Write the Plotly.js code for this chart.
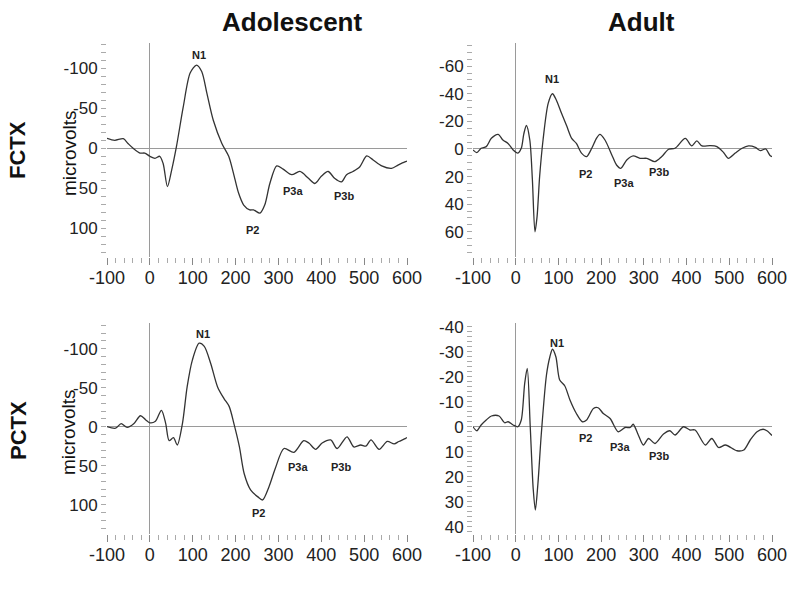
<!DOCTYPE html>
<html>
<head>
<meta charset="utf-8">
<script src="https://cdn.plot.ly/plotly-3.0.1.min.js"></script>
<style>html,body{margin:0;padding:0;background:#fff;}#chart{width:800px;height:589px;}</style>
</head>
<body>
<div id="chart"></div>
<script>
// ---- Data (ms, microvolts; negative plotted upward) ----
var fctxAdolTime = [-100,-82,-62,-51,-39,-23,-12,0,12,23,31,41,51,62,78,94,109,121,133,148,168,184,195,207,219,233,242,257,268,280,296,311,331,350,370,385,400,416,431,447,459,474,490,506,521,541,564,579,595,600];
var fctxAdolVals = [-12.5,-10,-12,-6,0,6,6,10,12.5,10,19,48,27,-2,-52,-94,-104,-96,-69,-35,-6,10,31,56,71,77,77,81,71,44,22,26,33,29,37.5,44,35,29,37.5,42,33,29,23,9.6,14.6,22,25,21,17,16];

var fctxAdultTime = [-100,-91,-81,-69,-57,-41,-30,-18,-6,5,13,19,25,33,39,45,50,56,64,76,86,95,107,119,131,142,154,166,178,189,197,209,225,236,246,260,275,291,307,326,342,358,373,397,412,424,436,455,471,487,498,514,530,545,561,573,585,596,600];
var fctxAdultVals = [0.7,2.7,-0.5,-1.7,-7.7,-10.6,-6.5,-4,0.7,3,-0.5,-11,-17,-6.5,22,60,49,20,-6.5,-33,-40,-35.5,-26,-17,-7.7,-4,3,5.5,-0.5,-7.7,-10.6,-6.5,4.3,11.6,14,8,5,6.8,6.8,9.2,5.5,0.2,-0.5,-7.7,-2.2,-5.8,-2.2,-2.4,-1.7,2.7,6.8,3,-0.5,-2.2,-1.2,1.2,0,5,5.5];

var pctxAdolTime = [-100,-80,-67,-53,-37,-22,-10,0,13,27,37,45,55,64,76,87,99,115,127,142,158,173,185,197,209,220,235,252,263,278,293,313,336,359,371,387,402,422,437,460,476,492,504,516,535,554,570,581,597,600];
var pctxAdolVals = [0,2,-4,1,-4,-14,-9,-5,-7,-21,-4,18,14,23.5,-4,-51,-85,-107,-103,-81,-51,-36,-26,-2,26,60,81,90,94,77,53,28,33,18,21,29,21,17,28,13,26,23.5,25,17,29,19,22,19,15,14];

var pctxAdultTime = [-100,-91,-81,-69,-57,-39,-26,-18,-6,5,13,21,27,34,41,46,52,60,72,80,86,94,103,115,127,142,156,166,182,193,205,221,240,256,268,275,287,299,311,326,346,361,373,393,408,420,444,459,475,491,518,534,549,565,579,588,600];
var pctxAdultVals = [0,1.6,-0.7,-2.7,-4.3,-4.3,-1.6,-2,-0.7,0,-2.7,-17.3,-23.3,0,25,33.3,22.7,2.7,-20.7,-28,-31,-28,-18.7,-16.3,-10.7,-5.3,-2,-2.7,-7.3,-7.6,-5.3,-3.3,2,0.3,0.3,-1,3.3,7.3,4.7,6.7,2.9,1.6,3.3,0,1.3,1.3,7.3,4.7,8.3,7.3,9.6,9.3,5.3,2,1,1.6,3.5];

// tick labels (plain hyphen minus, as in the original)
var timeTicks = [-100, 0, 100, 200, 300, 400, 500, 600];
var timeTickText = ["-100", "0", "100", "200", "300", "400", "500", "600"];
var adolTicks = [-100, -50, 0, 50, 100];
var adolTickText = ["-100", "-50", "0", "50", "100"];
var fctxAdultTicks = [-60, -40, -20, 0, 20, 40, 60];
var fctxAdultTickText = ["-60", "-40", "-20", "0", "20", "40", "60"];
var pctxAdultTicks = [-40, -30, -20, -10, 0, 10, 20, 30, 40];
var pctxAdultTickText = ["-40", "-30", "-20", "-10", "0", "10", "20", "30", "40"];

var columnTitles = ["Adolescent", "Adult"];
var rowTitles = ["FCTX", "PCTX"];
var yUnit = "microvolts";
var peakNames = ["N1", "P2", "P3a", "P3b"];

// ---- Chart ----
var FONT = "Liberation Sans, Arial, Helvetica, sans-serif";
var lineStyle = {color: "#333", width: 1.3, shape: "spline", smoothing: 0.8};

var traces = [
  {x: fctxAdolTime, y: fctxAdolVals, xaxis: "x", yaxis: "y"},
  {x: fctxAdultTime, y: fctxAdultVals, xaxis: "x2", yaxis: "y2"},
  {x: pctxAdolTime, y: pctxAdolVals, xaxis: "x3", yaxis: "y3"},
  {x: pctxAdultTime, y: pctxAdultVals, xaxis: "x4", yaxis: "y4"}
].map(function (t) {
  t.type = "scatter"; t.mode = "lines"; t.line = lineStyle; t.hoverinfo = "skip"; t.showlegend = false;
  return t;
});

function xAxis(domain, anchor) {
  return {
    domain: domain, anchor: anchor, range: [-100, 600], showgrid: false, showline: false,
    zeroline: true, zerolinecolor: "#9a9a9a", zerolinewidth: 1,
    tickmode: "array", tickvals: timeTicks, ticktext: timeTickText,
    ticks: "outside", ticklen: 7, tickwidth: 1, tickcolor: "#888", ticklabelstandoff: -3,
    tickfont: {family: FONT, size: 18, color: "#222"},
    minor: {dtick: 20, tick0: 0, ticks: "outside", ticklen: 5, tickcolor: "#aaa", tickwidth: 1, showgrid: false},
    fixedrange: true
  };
}
function yAxis(domain, anchor, range, vals, text, minorDtick) {
  return {
    domain: domain, anchor: anchor, range: range, autorange: false, showgrid: false, showline: false,
    zeroline: true, zerolinecolor: "#9a9a9a", zerolinewidth: 1,
    tickmode: "array", tickvals: vals, ticktext: text,
    ticks: "outside", ticklen: 5, tickwidth: 1, tickcolor: "#aaa",
    tickfont: {family: FONT, size: 17, color: "#222"},
    minor: {dtick: minorDtick, tick0: 0, ticks: "outside", ticklen: 5, tickcolor: "#aaa", tickwidth: 1, showgrid: false},
    fixedrange: true
  };
}

var W = 800, H = 589;
var leftDom = [107 / W, 407 / W], rightDom = [473 / W, 772 / W];
var topDom = [1 - 257 / H, 1 - 43 / H], botDom = [1 - 534 / H, 1 - 323 / H];

var annotations = [];
function paperText(text, px, py, size, bold, angle) {
  annotations.push({
    text: bold ? "<b>" + text + "</b>" : text, xref: "paper", yref: "paper",
    x: px / W, y: 1 - py / H, xanchor: "center", yanchor: "middle", showarrow: false,
    textangle: angle || 0, font: {family: FONT, size: size, color: "#111"}
  });
}
paperText(columnTitles[0], 292, 22, 26, true);
paperText(columnTitles[1], 641, 22, 26, true);
paperText(rowTitles[0], 18, 150, 22, true, -90);
paperText(rowTitles[1], 18, 431, 22, true, -90);
paperText(yUnit, 69, 153, 19, false, -90);
paperText(yUnit, 68, 432, 19, false, -90);

function peakLabels(xr, yr, pos) {
  pos.forEach(function (p, i) {
    annotations.push({
      text: "<b>" + peakNames[i] + "</b>", xref: xr, yref: yr, x: p[0], y: p[1],
      xanchor: "center", yanchor: "middle", showarrow: false,
      font: {family: FONT, size: 11, color: "#222"}
    });
  });
}
peakLabels("x", "y", [[114, -117], [240, 102], [334, 53], [452, 60]]);
peakLabels("x2", "y2", [[84, -51], [164, 18], [253, 25], [336, 17]]);
peakLabels("x3", "y3", [[123, -119], [253, 111], [346, 52], [445, 52]]);
peakLabels("x4", "y4", [[96, -33.6], [164, 4.6], [244, 8.2], [336, 11.7]]);

var layout = {
  width: W, height: H, margin: {l: 0, r: 0, t: 0, b: 0},
  paper_bgcolor: "#fff", plot_bgcolor: "rgba(0,0,0,0)",
  font: {family: FONT, color: "#222"},
  showlegend: false,
  xaxis: xAxis(leftDom, "y"),
  yaxis: yAxis(topDom, "x", [135.9, -131.6], adolTicks, adolTickText, 10),
  xaxis2: xAxis(rightDom, "y2"),
  yaxis2: yAxis(topDom, "x2", [78.3, -76.8], fctxAdultTicks, fctxAdultTickText, 5),
  xaxis3: xAxis(leftDom, "y3"),
  yaxis3: yAxis(botDom, "x3", [137.6, -132.9], adolTicks, adolTickText, 10),
  xaxis4: xAxis(rightDom, "y4"),
  yaxis4: yAxis(botDom, "x4", [42.9, -41.5], pctxAdultTicks, pctxAdultTickText, 2),
  annotations: annotations
};

Plotly.newPlot("chart", traces, layout, {displayModeBar: false, staticPlot: true});
</script>
</body>
</html>
